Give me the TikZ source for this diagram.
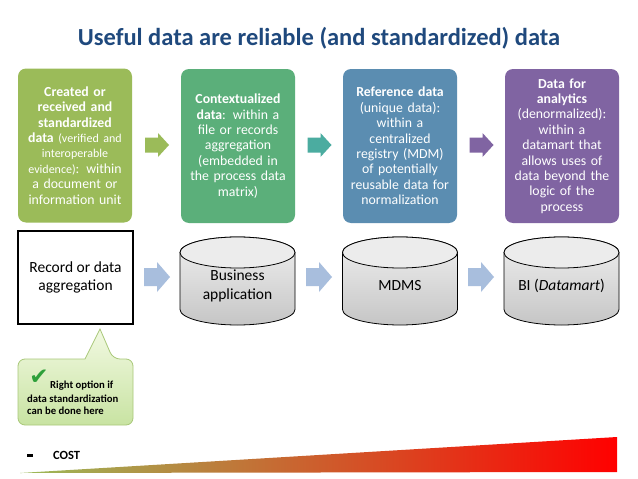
\documentclass[tikz,border=0pt]{standalone}
\usepackage{fontspec}
\setmainfont{Carlito}
\newfontfamily\symfont{DejaVu Sans}
\definecolor{titleblue}{HTML}{1F497D}
\definecolor{boxA}{HTML}{9BBB59}
\definecolor{boxB}{HTML}{5BAF7A}
\definecolor{boxC}{HTML}{5B8DB1}
\definecolor{boxD}{HTML}{8064A2}
\definecolor{arrB}{HTML}{4BACA0}
\definecolor{arrLight}{HTML}{A8BEDD}
\definecolor{chkgreen}{HTML}{2EA03A}
\definecolor{callTop}{HTML}{F2F9E2}
\definecolor{callBot}{HTML}{C8E3A2}
\definecolor{callLine}{HTML}{A9C879}
\newcommand{\smtx}{\fontsize{12}{13}\selectfont}
\begin{document}
\begin{tikzpicture}[x=1pt,y=1pt,
  topbox/.style={rounded corners=8pt, minimum width=114pt, minimum height=154pt,
    text width=112pt, align=center, text=white, inner sep=0pt,
    font=\fontsize{13.8}{15.4}\selectfont},
  cyltext/.style={align=center, font=\fontsize{15.5}{18.5}\selectfont},
  callouttext/.style={font=\fontsize{10.7}{12}\selectfont\bfseries, inner sep=0pt, anchor=west},
  toparrow/.pic={\path[pic actions] (0,-7.5) -- (13,-7.5) -- (13,-12) -- (24,0) -- (13,12) -- (13,7.5) -- (0,7.5) -- cycle;},
  botarrow/.pic={\path[pic actions] (0,-9) -- (13,-9) -- (13,-15) -- (26,0) -- (13,15) -- (13,9) -- (0,9) -- cycle;},
  cyl/.pic={
    \path[draw=black, line width=0.8pt, top color=gray!12, bottom color=gray!45]
      (-57.5pt,-15.5pt) -- (-57.5pt,-72.5pt)
      arc[start angle=180, end angle=360, x radius=57.5pt, y radius=15.5pt]
      -- (57.5pt,-15.5pt)
      arc[start angle=0, end angle=180, x radius=57.5pt, y radius=15.5pt] -- cycle;
    \path[draw=black, line width=0.8pt, fill=gray!15]
      (0,-15.5pt) ellipse [x radius=57.5pt, y radius=15.5pt];
  }
]
\useasboundingbox (0,0) rectangle (638,-479);
\fill[white] (0,0) rectangle (638,-479);

% title
\node[text=titleblue, font=\fontsize{24.5}{26}\selectfont\bfseries] (title) at (319,-38)
  {Useful data are reliable (and standardized) data};

% top boxes
\node[topbox, fill=boxA] (b1) at (75,-145.5)
  {\textbf{Created or}\\\textbf{received and}\\\textbf{standardized}\\\textbf{data} {\smtx(verified and}\\{\smtx interoperable}\\{\smtx evidence)}: within\\a document or\\information unit};
\node[topbox, fill=boxB] (b2) at (238,-146)
  {\textbf{Contextualized}\\\textbf{data}: within a\\file or records\\aggregation\\(embedded in\\the process data\\matrix)};
\node[topbox, fill=boxC] (b3) at (400,-146)
  {\textbf{Reference data}\\(unique data):\\within a\\centralized\\registry (MDM)\\of potentially\\reusable data for\\normalization};
\node[topbox, fill=boxD] (b4) at (562,-146)
  {\textbf{Data for}\\\textbf{analytics}\\(denormalized):\\within a\\datamart that\\allows uses of\\data beyond the\\logic of the\\process};

% top arrows
\pic[fill=boxA] at (145,-145) {toparrow};
\pic[fill=arrB] at (307.5,-145) {toparrow};
\pic[fill=boxD] at (469.5,-145) {toparrow};

% bottom row
\node[draw=black, line width=1.2pt, minimum width=115pt, minimum height=93pt,
  cyltext] (rec) at (75.5,-277.5) {Record or data\\aggregation};
\pic at (237.5,-237) {cyl};
\pic at (400,-237) {cyl};
\pic at (561.5,-237) {cyl};
\node[cyltext] (c1) at (237.5,-286) {Business\\application};
\node[cyltext] (c2) at (400,-286) {MDMS};
\node[cyltext] (c3) at (561.5,-286) {BI (\textit{Datamart})};

\pic[fill=arrLight] at (144,-277) {botarrow};
\pic[fill=arrLight] at (306,-277) {botarrow};
\pic[fill=arrLight] at (468,-277) {botarrow};

% callout
\draw[line width=0.8pt, draw=callLine, top color=callTop, bottom color=callBot]
  (100,-329) -- (85,-359) [rounded corners=7pt] -- (18,-359) -- (18,-425)
  -- (133,-425) -- (133,-359) -- (113,-359) [sharp corners] -- cycle;
\node[text=chkgreen, font=\symfont\fontsize{23}{23}\selectfont, inner sep=0pt] (chk) at (39,-377) {✔};
\node[callouttext] (l1) at (50,-386) {Right option if};
\node[callouttext] (l2) at (27,-398.5) {data standardization};
\node[callouttext] (l3) at (27,-410.5) {can be done here};

% cost
\fill (27,-453.5) rectangle (33,-457);
\node[font=\fontsize{12.5}{14}\selectfont\bfseries, inner sep=0pt, anchor=west] (cost) at (53,-455) {COST};
\shade[left color=boxA, right color=red]
  (20,-473) -- (617,-437) -- (617,-472) -- cycle;
\end{tikzpicture}
\end{document}
